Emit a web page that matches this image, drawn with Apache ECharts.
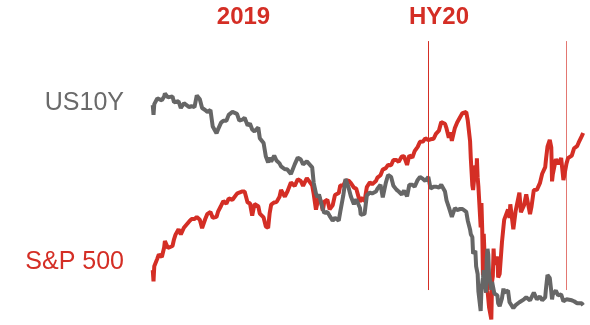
<!DOCTYPE html>
<html><head><meta charset="utf-8">
<script src="https://cdn.jsdelivr.net/npm/echarts@6/dist/echarts.min.js"></script>
<style>html,body{margin:0;padding:0;background:#fff}#c{width:590px;height:325px}</style>
</head><body><div id="c"></div>
<script>
const dates = [
'2019-01-02','2019-01-03','2019-01-04','2019-01-08','2019-01-10','2019-01-14','2019-01-17','2019-01-18','2019-01-22','2019-01-24','2019-01-28','2019-01-30',
'2019-02-01','2019-02-05','2019-02-08','2019-02-12','2019-02-14','2019-02-19','2019-02-22','2019-02-26',
'2019-03-01','2019-03-05','2019-03-08','2019-03-12','2019-03-15','2019-03-19','2019-03-22','2019-03-27','2019-03-29',
'2019-04-02','2019-04-05','2019-04-09','2019-04-12','2019-04-17','2019-04-23','2019-04-26','2019-04-30',
'2019-05-03','2019-05-07','2019-05-10','2019-05-13','2019-05-16','2019-05-21','2019-05-23','2019-05-28','2019-05-31',
'2019-06-03','2019-06-05','2019-06-07','2019-06-11','2019-06-14','2019-06-18','2019-06-20','2019-06-25','2019-06-28',
'2019-07-03','2019-07-08','2019-07-12','2019-07-16','2019-07-19','2019-07-24','2019-07-26','2019-07-31',
'2019-08-02','2019-08-05','2019-08-07','2019-08-09','2019-08-12','2019-08-14','2019-08-16','2019-08-20','2019-08-23','2019-08-27','2019-08-30',
'2019-09-04','2019-09-06','2019-09-10','2019-09-13','2019-09-17','2019-09-20','2019-09-24','2019-09-27',
'2019-10-02','2019-10-03','2019-10-08','2019-10-11','2019-10-15','2019-10-18','2019-10-23','2019-10-25','2019-10-29',
'2019-11-01','2019-11-05','2019-11-08','2019-11-12','2019-11-15','2019-11-19','2019-11-22','2019-11-26','2019-11-29',
'2019-12-03','2019-12-06','2019-12-10','2019-12-13','2019-12-17','2019-12-20','2019-12-24','2019-12-27','2019-12-31',
'2020-01-03','2020-01-07','2020-01-10','2020-01-14','2020-01-17','2020-01-22','2020-01-24','2020-01-27','2020-01-29','2020-01-31',
'2020-02-04','2020-02-07','2020-02-11','2020-02-14','2020-02-19','2020-02-21','2020-02-24','2020-02-25','2020-02-27','2020-02-28',
'2020-03-02','2020-03-03','2020-03-04','2020-03-05','2020-03-06','2020-03-09','2020-03-10','2020-03-11','2020-03-12','2020-03-13',
'2020-03-16','2020-03-17','2020-03-18','2020-03-19','2020-03-20','2020-03-23','2020-03-24','2020-03-25','2020-03-26','2020-03-27','2020-03-31',
'2020-04-01','2020-04-03','2020-04-06','2020-04-08','2020-04-09','2020-04-14','2020-04-16','2020-04-17','2020-04-21','2020-04-24','2020-04-29',
'2020-05-01','2020-05-05','2020-05-08','2020-05-13','2020-05-15','2020-05-18','2020-05-22','2020-05-26','2020-05-29',
'2020-06-02','2020-06-03','2020-06-05','2020-06-08','2020-06-10','2020-06-11','2020-06-12','2020-06-16','2020-06-19','2020-06-23','2020-06-26','2020-06-30',
'2020-07-02','2020-07-07','2020-07-10','2020-07-14','2020-07-16','2020-07-20','2020-07-22'
];
const spx = [
2510,2448,2532,2574,2597,2583,2636,2671,2633,2643,2644,2681,
2707,2737,2708,2745,2746,2780,2793,2793,
2804,2789,2743,2792,2822,2832,2800,2805,2834,
2867,2893,2878,2907,2900,2934,2940,2946,
2946,2884,2881,2812,2876,2864,2823,2802,2752,
2744,2826,2873,2885,2887,2917,2954,2917,2942,
2996,2976,3014,3004,2977,3020,3026,2980,
2932,2845,2884,2919,2883,2840,2889,2900,2847,2869,2926,
2937,2979,2979,3007,3006,2992,2967,2962,
2887,2911,2893,2970,2996,2986,3004,3023,3036,
3067,3075,3093,3091,3120,3120,3110,3140,3141,
3093,3146,3133,3169,3193,3221,3223,3240,3231,
3235,3238,3265,3283,3330,3321,3295,3244,3273,3226,
3298,3328,3358,3380,3386,3338,3226,3128,2979,2954,
3090,3003,3130,3024,2972,2747,2882,2741,2481,2711,
2386,2529,2398,2409,2305,2237,2447,2476,2630,2541,2585,
2470,2489,2664,2750,2790,2846,2800,2875,2737,2837,2940,
2831,2868,2930,2820,2864,2954,2955,2992,3044,
3081,3123,3194,3232,3190,3002,3041,3125,3098,3131,3009,3100,
3130,3145,3185,3197,3216,3251,3270
];
const us10y = [
2.66,2.56,2.67,2.73,2.74,2.71,2.75,2.78,2.74,2.72,2.75,2.69,
2.70,2.70,2.63,2.68,2.66,2.64,2.65,2.64,
2.76,2.72,2.63,2.61,2.59,2.61,2.44,2.37,2.41,
2.48,2.50,2.50,2.56,2.59,2.57,2.50,2.51,
2.53,2.45,2.47,2.41,2.39,2.43,2.32,2.27,2.13,
2.07,2.12,2.08,2.14,2.09,2.06,2.03,2.00,2.00,
1.95,2.05,2.12,2.10,2.05,2.08,2.07,2.02,
1.86,1.75,1.71,1.74,1.65,1.59,1.55,1.56,1.52,1.47,1.50,
1.47,1.56,1.73,1.90,1.81,1.72,1.64,1.69,
1.60,1.53,1.54,1.73,1.76,1.75,1.77,1.80,1.84,
1.71,1.86,1.94,1.92,1.83,1.79,1.77,1.74,1.78,
1.72,1.84,1.84,1.82,1.89,1.92,1.90,1.88,1.92,
1.80,1.82,1.82,1.81,1.84,1.77,1.68,1.61,1.59,1.51,
1.60,1.58,1.59,1.59,1.56,1.47,1.38,1.33,1.30,1.13,
1.16,1.00,1.02,0.92,0.74,0.54,0.76,0.82,0.88,0.96,
0.73,1.08,1.18,1.12,0.92,0.76,0.84,0.86,0.83,0.72,0.70,
0.62,0.59,0.67,0.77,0.73,0.75,0.63,0.65,0.57,0.60,0.63,
0.64,0.66,0.68,0.65,0.64,0.73,0.66,0.69,0.65,
0.68,0.77,0.91,0.88,0.74,0.66,0.71,0.75,0.70,0.71,0.64,0.66,
0.68,0.65,0.64,0.62,0.61,0.62,0.60
];
const periodLabels = ['2019', 'HY20'];
const periodEnds = ['2019-12-31', '2020-06-30'];
const seriesNames = ['US10Y', 'S&P 500'];

const RED = '#d42e25', GREY = '#666666';
const chart = echarts.init(document.getElementById('c'), null, {renderer: 'canvas'});
const toPairs = (vals) => dates.map((d, i) => [d, vals[i]]);
chart.setOption({
  animation: false,
  grid: {left: 152, right: 0, top: 40, bottom: 5},
  xAxis: {type: 'time', min: '2019-01-01', max: '2020-07-31', show: false},
  yAxis: [
    {type: 'value', min: 2234, max: 3785, show: false},
    {type: 'value', min: 0.447, max: 3.331, show: false}
  ],
  graphic: [
    {type: 'text', x: 243.5, y: 17, style: {text: periodLabels[0], fill: RED, font: 'bold 24px "Liberation Sans", Arial, sans-serif', textAlign: 'center', textVerticalAlign: 'middle'}},
    {type: 'text', x: 439, y: 17, style: {text: periodLabels[1], fill: RED, font: 'bold 24px "Liberation Sans", Arial, sans-serif', textAlign: 'center', textVerticalAlign: 'middle'}},
    {type: 'text', x: 124, y: 103, style: {text: seriesNames[0], fill: '#6a6a6a', font: '25px "Liberation Sans", Arial, sans-serif', textAlign: 'right', textVerticalAlign: 'middle'}},
    {type: 'text', x: 124, y: 262, style: {text: seriesNames[1], fill: RED, font: '25px "Liberation Sans", Arial, sans-serif', textAlign: 'right', textVerticalAlign: 'middle'}}
  ],
  series: [
    {
      name: seriesNames[1], type: 'line', yAxisIndex: 0, data: toPairs(spx),
      showSymbol: false, symbol: 'none', lineStyle: {color: RED, width: 4}, z: 2,
      markLine: {
        silent: true, symbol: 'none', label: {show: false},
        lineStyle: {color: RED, width: 1, type: 'solid'},
        data: [
          [{coord: [periodEnds[0], 3779]}, {coord: [periodEnds[0], 2400]}],
          [{coord: [periodEnds[1], 3779], lineStyle: {opacity: 0.65}}, {coord: [periodEnds[1], 2400]}]
        ]
      }
    },
    {
      name: seriesNames[0], type: 'line', yAxisIndex: 1, data: toPairs(us10y),
      showSymbol: false, symbol: 'none', lineStyle: {color: GREY, width: 4}, z: 3
    }
  ]
});
</script></body></html>
